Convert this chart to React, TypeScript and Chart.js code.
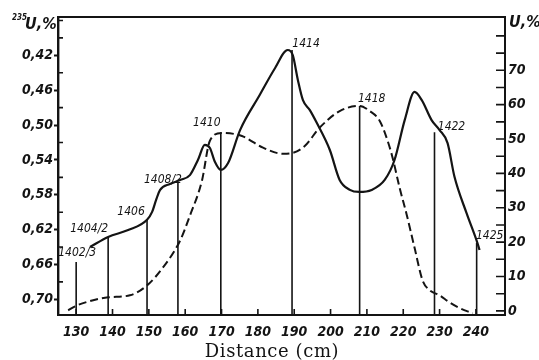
import React, { useEffect, useRef } from "react";
import { Chart, registerables } from "chart.js";

Chart.register(...registerables);

// Solid curve: U, % (right axis)
const solidDistance = [133.8, 138.8, 144.3, 149.5, 150.9, 152, 153.1, 155.8, 158.6, 161.3, 163.5, 165.4, 166.8, 168.2, 169.8, 171.8, 175.1, 180.5, 184.7, 188.2, 189.6, 191, 192.4, 194.3, 196.2, 199.8, 202.5, 205.3, 207.9, 211.3, 214.9, 217.6, 220.4, 223.1, 225.1, 227.8, 230, 232.2, 234.1, 237.4, 240.4, 241];
const solidU = [18.6, 21.5, 23.5, 26.5, 28.8, 32.3, 35.2, 36.9, 38.1, 39.5, 43.9, 48.3, 47.4, 43.3, 41.0, 43.0, 52.6, 62.8, 70.6, 75.9, 74.4, 67.2, 61.3, 58.4, 54.7, 46.8, 38.1, 35.2, 34.6, 35.2, 38.1, 43.9, 55.5, 63.7, 61.3, 55.5, 52.6, 48.8, 39.0, 28.5, 19.8, 17.7];

// Dashed curve: 235U, % (left axis, inverted)
const dashedDistance = [127.8, 129.7, 133.8, 138.8, 144.8, 149.5, 153.9, 158.6, 161.3, 164.6, 166.8, 170.1, 175.6, 181.4, 186.9, 189.6, 192.9, 197, 202.5, 208, 210.8, 213.5, 215.7, 217.1, 219, 220.9, 223.1, 225.3, 227.3, 230, 232.7, 235.5, 239.1];
const dashedU235 = [0.7126, 0.708, 0.702, 0.6977, 0.6954, 0.684, 0.6634, 0.6326, 0.604, 0.564, 0.518, 0.509, 0.5126, 0.526, 0.533, 0.532, 0.524, 0.503, 0.484, 0.478, 0.484, 0.495, 0.518, 0.538, 0.572, 0.602, 0.6406, 0.678, 0.6897, 0.6954, 0.7034, 0.71, 0.716];

// Sample positions
const sampleIds = ["1402/3", "1404/2", "1406", "1408/2", "1410", "1414", "1418", "1422", "1425"];
const sampleDistance = [130, 138.8, 149.5, 158, 169.8, 189.4, 208, 228.6, 240.2];
const sampleTopU = [14.2, 21.5, 26.5, 37.5, 52, 75.9, 59.6, 52, 19.8];
// label offsets (px) from the top of each sample line
const labelDx = [1, -19, -16, -15, -14, 14, 12, 17, 13];
const labelDy = [-9, -8, -8, -2, -9, -6, -7, -5, -7];

// Axes
const xTickValues = [130, 140, 150, 160, 170, 180, 190, 200, 210, 220, 230, 240];
const leftTickValues = [0.42, 0.46, 0.5, 0.54, 0.58, 0.62, 0.66, 0.7];
const leftTickLabels = ["0,42", "0,46", "0,50", "0,54", "0,58", "0,62", "0,66", "0,70"];
const leftMinorValues = [0.38, 0.4, 0.44, 0.48, 0.52, 0.56, 0.6, 0.64, 0.68];
const rightTickValues = [0, 10, 20, 30, 40, 50, 60, 70];
const rightMinorValues = [0, 5, 10, 15, 20, 25, 30, 35, 40, 45, 50, 55, 60, 65, 70, 75, 80];

const INK = "#141414";
const NARROW = '"DejaVu Sans Condensed", "Liberation Sans Narrow", "Liberation Sans", sans-serif';

const decorPlugin = {
  id: "decor",
  afterDraw(chart: any) {
    const ctx = chart.ctx as CanvasRenderingContext2D;
    const area = chart.chartArea;
    const x = chart.scales.x;
    const yL = chart.scales.yL;
    const yR = chart.scales.yR;
    ctx.save();
    ctx.strokeStyle = INK;
    ctx.fillStyle = INK;

    // top frame
    ctx.lineWidth = 2;
    ctx.beginPath();
    ctx.moveTo(area.left - 1, area.top);
    ctx.lineTo(area.right + 1, area.top);
    ctx.stroke();

    // inward ticks
    ctx.lineWidth = 1.6;
    ctx.beginPath();
    leftMinorValues.forEach((v) => {
      const py = yL.getPixelForValue(v);
      ctx.moveTo(area.left, py);
      ctx.lineTo(area.left + 5, py);
    });
    rightMinorValues.forEach((v) => {
      const py = yR.getPixelForValue(v);
      ctx.moveTo(area.right, py);
      ctx.lineTo(area.right - 9, py);
    });
    xTickValues.forEach((v) => {
      const px = x.getPixelForValue(v);
      ctx.moveTo(px, area.bottom);
      ctx.lineTo(px, area.bottom - 6);
    });
    ctx.stroke();

    // sample lines
    ctx.lineWidth = 1.6;
    ctx.beginPath();
    sampleDistance.forEach((d, i) => {
      const px = x.getPixelForValue(d);
      ctx.moveTo(px, area.bottom);
      ctx.lineTo(px, yR.getPixelForValue(sampleTopU[i]));
    });
    ctx.stroke();

    // sample labels
    ctx.font = `italic 12px ${NARROW}`;
    ctx.textAlign = "center";
    ctx.textBaseline = "middle";
    sampleIds.forEach((id, i) => {
      const px = x.getPixelForValue(sampleDistance[i]) + labelDx[i];
      const py = yR.getPixelForValue(sampleTopU[i]) + labelDy[i];
      ctx.fillText(id, px, py);
    });

    // axis titles
    ctx.textAlign = "left";
    ctx.textBaseline = "alphabetic";
    ctx.font = `italic bold 8px ${NARROW}`;
    ctx.fillText("235", 12, 20);
    ctx.font = `italic bold 16px ${NARROW}`;
    ctx.fillText("U,%", 25, 29);
    ctx.fillText("U,%", 509, 27);

    // x title
    ctx.font = '18px "DejaVu Serif", "Liberation Serif", serif';
    (ctx as any).letterSpacing = "0.6px";
    ctx.textAlign = "center";
    ctx.fillText("Distance (cm)", 272, 357);
    ctx.restore();
  },
};

export default function App() {
  const canvasRef = useRef<HTMLCanvasElement | null>(null);

  useEffect(() => {
    document.body.style.margin = "0";
    document.body.style.background = "#ffffff";
    const canvas = canvasRef.current;
    if (!canvas) return;

    const tickFont = { family: NARROW, size: 14, style: "italic" as const, weight: "bold" as const };

    const chart = new Chart(canvas, {
      type: "scatter",
      data: {
        datasets: [
          {
            label: "U, %",
            data: solidDistance.map((d, i) => ({ x: d, y: solidU[i] })),
            yAxisID: "yR",
            showLine: true,
            borderColor: INK,
            borderWidth: 2.2,
            pointRadius: 0,
            cubicInterpolationMode: "monotone",
            fill: false,
          },
          {
            label: "235U, %",
            data: dashedDistance.map((d, i) => ({ x: d, y: dashedU235[i] })),
            yAxisID: "yL",
            showLine: true,
            borderColor: INK,
            borderWidth: 2,
            borderDash: [8, 4],
            pointRadius: 0,
            cubicInterpolationMode: "monotone",
            fill: false,
          },
        ],
      },
      options: {
        responsive: false,
        animation: false,
        devicePixelRatio: 1,
        layout: { padding: { top: 17, left: 0, right: 0, bottom: 0 } },
        plugins: {
          legend: { display: false },
          tooltip: { enabled: false },
          title: { display: false },
        },
        scales: {
          x: {
            type: "linear",
            position: "bottom",
            min: 125,
            max: 248,
            afterBuildTicks: (scale: any) => {
              scale.ticks = xTickValues.map((v) => ({ value: v }));
            },
            afterFit: (scale: any) => {
              scale.height = 45;
            },
            grid: { drawOnChartArea: false, drawTicks: false },
            border: { display: true, color: INK, width: 2 },
            ticks: {
              font: tickFont,
              color: INK,
              padding: 9,
              maxRotation: 0,
              autoSkip: false,
              callback: (v: any) => String(v),
            },
          },
          yL: {
            type: "linear",
            position: "left",
            reverse: true,
            min: 0.376,
            max: 0.718,
            afterBuildTicks: (scale: any) => {
              scale.ticks = leftTickValues.map((v) => ({ value: v }));
            },
            afterFit: (scale: any) => {
              scale.width = 58;
            },
            grid: { drawOnChartArea: false, drawTicks: true, tickLength: 4, tickWidth: 2, tickColor: INK },
            border: { display: true, color: INK, width: 2.4 },
            ticks: {
              font: tickFont,
              color: INK,
              padding: 1,
              autoSkip: false,
              callback: (_v: any, i: number) => leftTickLabels[i],
            },
          },
          yR: {
            type: "linear",
            position: "right",
            min: -1.2,
            max: 85.5,
            afterBuildTicks: (scale: any) => {
              scale.ticks = rightTickValues.map((v) => ({ value: v }));
            },
            afterFit: (scale: any) => {
              scale.width = 34;
            },
            grid: { drawOnChartArea: false, drawTicks: false },
            border: { display: true, color: INK, width: 2 },
            ticks: {
              font: tickFont,
              color: INK,
              padding: 3,
              autoSkip: false,
              callback: (v: any) => String(v),
            },
          },
        },
      },
      plugins: [decorPlugin],
    });

    return () => {
      chart.destroy();
    };
  }, []);

  return (
    <div style={{ width: 539, height: 360, background: "#fff" }}>
      <canvas ref={canvasRef} width={539} height={360} style={{ display: "block" }} />
    </div>
  );
}
